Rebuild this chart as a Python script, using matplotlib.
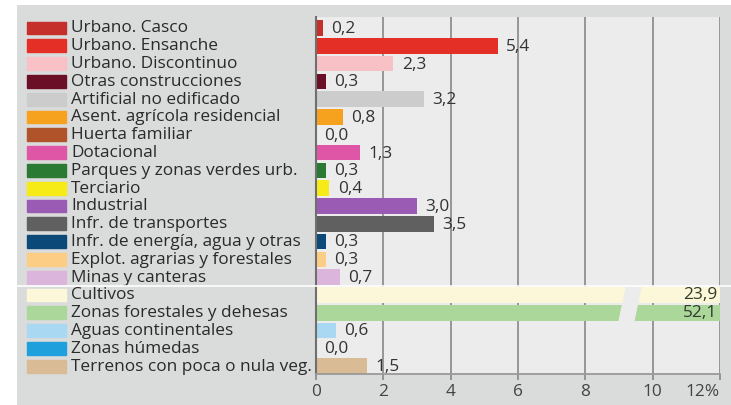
import matplotlib
matplotlib.use("Agg")
import matplotlib.pyplot as plt
import matplotlib.transforms as mtrans
from matplotlib.patches import Rectangle, Polygon

plt.rcParams['font.family'] = ['Open Sans', 'DejaVu Sans']

categories = [
    "Urbano. Casco", "Urbano. Ensanche", "Urbano. Discontinuo",
    "Otras construcciones", "Artificial no edificado",
    "Asent. agrícola residencial", "Huerta familiar", "Dotacional",
    "Parques y zonas verdes urb.", "Terciario", "Industrial",
    "Infr. de transportes", "Infr. de energía, agua y otras",
    "Explot. agrarias y forestales", "Minas y canteras", "Cultivos",
    "Zonas forestales y dehesas", "Aguas continentales", "Zonas húmedas",
    "Terrenos con poca o nula veg.",
]
values = [0.2, 5.4, 2.3, 0.3, 3.2, 0.8, 0.0, 1.3, 0.3, 0.4,
          3.0, 3.5, 0.3, 0.3, 0.7, 23.9, 52.1, 0.6, 0.0, 1.5]
colors = [
    "#c5302a", "#e32f26", "#f7c1c6", "#6a0f26", "#cccccc",
    "#f7a21f", "#b0532a", "#e056a6", "#2a7a34", "#f6ea17",
    "#9a5bb5", "#606060", "#0b4a78", "#fccd85", "#dcb5dc",
    "#fdf7d9", "#acd79b", "#a9d8f2", "#1ea0dc", "#d9bb95",
]
xticks = [0, 2, 4, 6, 8, 10, 12]
xtick_labels = ["0", "2", "4", "6", "8", "10", "12%"]

W, H = 731, 405
fs = 12.4
fig = plt.figure(figsize=(W / 100, H / 100), dpi=100)
fig.patch.set_facecolor("white")

# outer grey panel (separate axes behind the chart)
bg = fig.add_axes([17 / W, 0, 1 - 17 / W, 400 / H])
bg.set_facecolor("#dadbdb")
bg.set_xticks([])
bg.set_yticks([])
for s in bg.spines.values():
    s.set_visible(False)
bg.set_zorder(0)

ax = fig.add_axes([316 / W, 31 / H, 404 / W, 357 / H])
ax.set_zorder(1)
ax.set_facecolor("#ececec")
ax.set_xlim(0, 12)
ax.set_ylim(19.44, -0.62)

xmax = 12
ypos = list(range(len(categories)))
shown = [min(v, xmax) for v in values]
ax.barh(ypos, shown, height=0.88, color=colors, zorder=2)

# break marks on the two long bars
gap = Polygon([(9.2, 14.52), (9.68, 14.52), (9.46, 16.48), (8.98, 16.48)],
              closed=True, facecolor="#ececec", edgecolor="none", zorder=3)
ax.add_patch(gap)

for y, v in zip(ypos, values):
    txt = f"{v:.1f}".replace(".", ",")
    if v > xmax:
        ax.text(11.4, y + 0.02, txt, ha="center", va="center", fontsize=fs,
                color="#2f3a2a", zorder=4)
    else:
        ax.text(v + 0.25, y + 0.05, txt, ha="left", va="center", fontsize=fs,
                color="#333333", zorder=4)

# legend-like labels on the left
tr = mtrans.blended_transform_factory(fig.transFigure, ax.transData)
for y, c, name in zip(ypos, colors, categories):
    ax.add_patch(Rectangle((27 / W, y - 0.36), 39 / W, 0.72, transform=tr,
                           color=c, clip_on=False, zorder=3))
    ax.text(71 / W, y + 0.02, name, transform=tr, ha="left", va="center",
            fontsize=fs, color="#2a2a2a", clip_on=False)

ax.plot([17 / W, 1], [14.5, 14.5], transform=tr, color="white", lw=1.2,
        clip_on=False, zorder=5)

ax.set_xticks(xticks)
ax.set_xticklabels(xtick_labels, fontsize=fs, color="#444444")
last = ax.get_xticklabels()[-1]
last.set_ha("right")
last.set_transform(last.get_transform() +
                   mtrans.ScaledTranslation(8 / 100, 0, fig.dpi_scale_trans))
ax.set_yticks([])
ax.grid(axis="x", color="#8f8f8f", lw=1.3)
ax.set_axisbelow(True)
ax.tick_params(axis="x", length=4, width=1.3, color="#8f8f8f", pad=3)
for s in ["top", "right"]:
    ax.spines[s].set_visible(False)
ax.spines["left"].set_color("#6f6f6f")
ax.spines["left"].set_linewidth(1.5)
ax.spines["bottom"].set_color("#9a9a9a")
ax.spines["bottom"].set_linewidth(1.3)

fig.savefig("out.png", dpi=100, facecolor=fig.get_facecolor())
